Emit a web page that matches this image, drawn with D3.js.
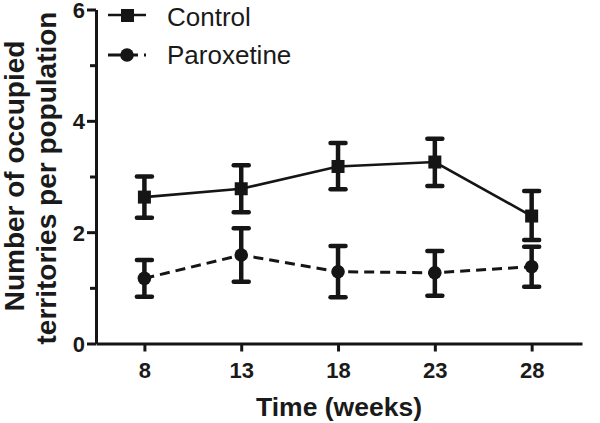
<!DOCTYPE html>
<html><head><meta charset="utf-8">
<script src="https://cdn.jsdelivr.net/npm/d3@7"></script>
<style>body{margin:0;background:#fff}svg{display:block}text{font-family:"Liberation Sans",Arial,sans-serif;fill:#1a1a1a}</style>
</head><body>
<svg id="c" width="600" height="423"></svg>
<script>
const weeks = [8, 13, 18, 23, 28];
const controlMean = [2.63, 2.78, 3.18, 3.26, 2.29];
const controlLow  = [2.26, 2.36, 2.77, 2.83, 1.86];
const controlHigh = [3.00, 3.20, 3.60, 3.68, 2.74];
const paroxMean = [1.17, 1.59, 1.29, 1.27, 1.38];
const paroxLow  = [0.84, 1.11, 0.83, 0.86, 1.02];
const paroxHigh = [1.50, 2.07, 1.75, 1.66, 1.74];
const yMajor = [0, 2, 4, 6];
const yMinor = [1, 3, 5];
const seriesNames = ["Control", "Paroxetine"];

const svg = d3.select("#c");
const x = d3.scaleLinear().domain([5.5, 30.6]).range([96, 582]);
const y = d3.scaleLinear().domain([0, 6]).range([343.5, 9.5]);
const ink = "#151515";

// axes
const gy = svg.append("g").attr("transform", "translate(96,0)")
  .call(d3.axisLeft(y).tickValues(yMajor).tickSize(9).tickSizeOuter(0).tickPadding(2).tickFormat(d3.format("d")));
svg.append("g").attr("transform", "translate(96,0)")
  .call(d3.axisLeft(y).tickValues(yMinor).tickSize(6).tickFormat(""))
  .select(".domain").remove();
const gx = svg.append("g").attr("transform", "translate(0,343.5)")
  .call(d3.axisBottom(x).tickValues(weeks).tickSize(8).tickSizeOuter(0).tickPadding(11).tickFormat(d3.format("d")));
svg.selectAll(".domain, .tick line").attr("stroke", ink).attr("stroke-width", 3);
svg.selectAll(".tick text").attr("font-size", 22).attr("font-weight", "bold").attr("fill", "#1a1a1a")
  .style("font-family", '"Liberation Sans",Arial,sans-serif');
gy.selectAll(".tick text").attr("dy", "0.36em");

// axis titles
svg.append("text").attr("x", 339).attr("y", 416).attr("text-anchor", "middle")
  .attr("font-size", 26.5).attr("font-weight", "bold").text("Time (weeks)");
svg.append("text").attr("transform", "translate(24,176) rotate(-90)").attr("text-anchor", "middle")
  .attr("font-size", 28).attr("font-weight", "bold").text("Number of occupied");
svg.append("text").attr("transform", "translate(56,178) rotate(-90)").attr("text-anchor", "middle")
  .attr("font-size", 28).attr("font-weight", "bold").text("territories per population");

function drawSeries(mean, low, high, dashed, marker) {
  const g = svg.append("g");
  const line = d3.line().x((d, i) => x(weeks[i])).y(d => y(d));
  g.append("path").datum(mean).attr("d", line).attr("fill", "none").attr("stroke", ink)
    .attr("stroke-width", dashed ? 3 : 2.6).attr("stroke-dasharray", dashed ? "10,6" : null);
  weeks.forEach((w, i) => {
    const cx = x(w);
    g.append("line").attr("x1", cx).attr("x2", cx).attr("y1", y(low[i])).attr("y2", y(high[i]))
      .attr("stroke", ink).attr("stroke-width", 4.5);
    [low[i], high[i]].forEach(v => {
      g.append("line").attr("x1", cx - 7.5).attr("x2", cx + 7.5).attr("y1", y(v)).attr("y2", y(v))
        .attr("stroke", ink).attr("stroke-width", 4.5).attr("stroke-linecap", "round");
    });
    if (marker === "square") {
      g.append("rect").attr("x", cx - 6.5).attr("y", y(mean[i]) - 6.5).attr("width", 13).attr("height", 13).attr("fill", ink);
    } else {
      g.append("circle").attr("cx", cx).attr("cy", y(mean[i])).attr("r", 6.8).attr("fill", ink);
    }
  });
}
drawSeries(controlMean, controlLow, controlHigh, false, "square");
drawSeries(paroxMean, paroxLow, paroxHigh, true, "circle");

// legend
const leg = svg.append("g");
leg.append("line").attr("x1", 108).attr("x2", 146).attr("y1", 15).attr("y2", 15).attr("stroke", ink).attr("stroke-width", 2.6);
leg.append("rect").attr("x", 121).attr("y", 9).attr("width", 13).attr("height", 13).attr("fill", ink);
leg.append("line").attr("x1", 108).attr("x2", 146).attr("y1", 55).attr("y2", 55).attr("stroke", ink).attr("stroke-width", 3).attr("stroke-dasharray", "30,6,4,20");
leg.append("circle").attr("cx", 127).attr("cy", 55).attr("r", 6.8).attr("fill", ink);
leg.append("text").attr("x", 167).attr("y", 26).attr("font-size", 26).text(seriesNames[0]);
leg.append("text").attr("x", 167).attr("y", 64).attr("font-size", 26).text(seriesNames[1]);
</script>
</body></html>
